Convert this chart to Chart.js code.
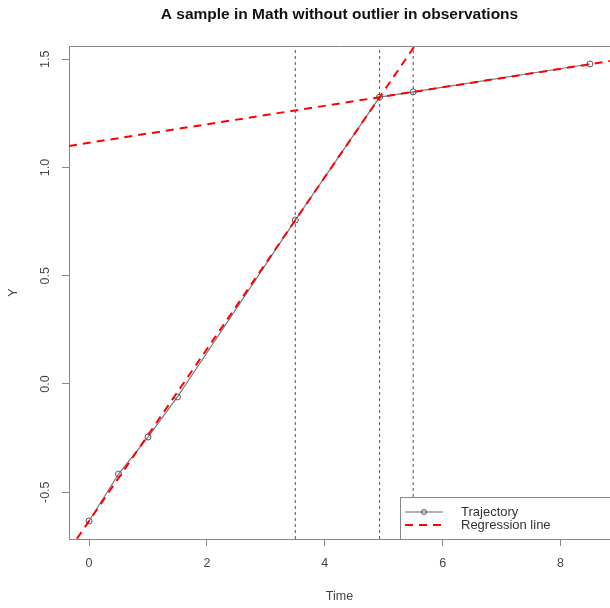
<!DOCTYPE html>
<html>
<head>
<meta charset="utf-8">
<script src="https://cdn.jsdelivr.net/npm/chart.js@4"></script>
<style>
  html, body { margin: 0; padding: 0; background: #fff; }
  canvas { display: block; }
</style>
</head>
<body>
<canvas id="plot" width="610" height="608"></canvas>
<script>
// observed trajectory
const trajTime = [0, 0.5, 1, 1.5, 3.5, 4.93, 5.5, 8.5];
const trajValue = [-0.633, -0.416, -0.245, -0.06, 0.757, 1.325, 1.349, 1.478];

// the two fitted segments, given as end points (clipped to the plot box)
const regEarlyX = [-0.34, 6.0];
const regEarlyY = [-0.768, 1.749];
const regLateX = [-0.34, 8.84];
const regLateY = [1.0995, 1.4915];

// change points marked with dotted verticals
const cutTimes = [3.5, 4.93, 5.5];

const xTicks = [0, 2, 4, 6, 8];
const yTicks = [-0.5, 0, 0.5, 1, 1.5];
const xRange = [-0.34, 8.84];
const yRange = [-0.716, 1.561];

Chart.defaults.font.family = "'Liberation Sans', Arial, sans-serif";
Chart.defaults.color = '#444';

const axisFont = { size: 12.5 };
const pairs = (xs, ys) => xs.map((x, i) => ({ x, y: ys[i] }));

const datasets = [
  {
    label: 'Regression line',
    data: pairs(regEarlyX, regEarlyY),
    borderColor: '#ff0000', borderWidth: 2, borderDash: [8, 6],
    pointRadius: 0, showLine: true, order: 0
  },
  {
    label: 'Regression line',
    data: pairs(regLateX, regLateY),
    borderColor: '#ff0000', borderWidth: 2, borderDash: [8, 6],
    pointRadius: 0, showLine: true, order: 0
  },
  {
    label: 'Trajectory',
    data: pairs(trajTime, trajValue),
    borderColor: '#777', borderWidth: 1.2,
    pointRadius: 3, pointBorderColor: '#555', pointBorderWidth: 1,
    pointBackgroundColor: 'rgba(0,0,0,0)',
    showLine: true, order: 2
  }
];
cutTimes.forEach(t => {
  datasets.push({
    label: 'cut',
    data: [{ x: t, y: yRange[0] }, { x: t, y: yRange[1] }],
    borderColor: '#555', borderWidth: 1, borderDash: [3, 3],
    pointRadius: 0, showLine: true, order: 1
  });
});

// top edge of the box (the axes draw left and bottom)
const boxTop = {
  id: 'boxTop',
  afterDraw(chart) {
    const { ctx, chartArea: a } = chart;
    ctx.save();
    ctx.strokeStyle = '#888';
    ctx.lineWidth = 1;
    ctx.beginPath();
    ctx.moveTo(a.left, a.top + 0.5);
    ctx.lineTo(a.right, a.top + 0.5);
    ctx.stroke();
    ctx.restore();
  }
};

// boxed legend in the bottom-right corner
const boxLegend = {
  id: 'boxLegend',
  afterDraw(chart) {
    const { ctx, chartArea: a } = chart;
    const right = a.right, bottom = a.bottom;
    const left = right - 210, top = bottom - 42;
    ctx.save();
    ctx.fillStyle = '#fff';
    ctx.fillRect(left, top, right - left, bottom - top);
    ctx.strokeStyle = '#888';
    ctx.lineWidth = 1;
    ctx.strokeRect(left + 0.5, top + 0.5, right - left, bottom - top);

    const y1 = top + 15, y2 = top + 28;
    ctx.strokeStyle = '#666';
    ctx.beginPath();
    ctx.moveTo(left + 5, y1);
    ctx.lineTo(left + 43, y1);
    ctx.stroke();
    ctx.strokeStyle = '#555';
    ctx.beginPath();
    ctx.arc(left + 24, y1, 2.5, 0, Math.PI * 2);
    ctx.stroke();

    ctx.strokeStyle = '#ff0000';
    ctx.lineWidth = 2;
    ctx.setLineDash([8, 6]);
    ctx.beginPath();
    ctx.moveTo(left + 5, y2);
    ctx.lineTo(left + 43, y2);
    ctx.stroke();
    ctx.setLineDash([]);

    ctx.fillStyle = '#333';
    ctx.font = "13px 'Liberation Sans', Arial, sans-serif";
    ctx.textAlign = 'left';
    ctx.textBaseline = 'middle';
    ctx.fillText('Trajectory', left + 61, y1);
    ctx.fillText('Regression line', left + 61, y2);
    ctx.restore();
  }
};

new Chart(document.getElementById('plot'), {
  type: 'scatter',
  data: { datasets },
  plugins: [boxTop, boxLegend],
  options: {
    responsive: false,
    animation: false,
    layout: { padding: 0, autoPadding: false },
    plugins: {
      legend: { display: false },
      tooltip: { enabled: false },
      title: {
        display: true,
        fullSize: false,
        text: 'A sample in Math without outlier in observations',
        color: '#111',
        font: { size: 15.5, weight: 'bold' },
        padding: { top: 5.5, bottom: 21.9 }
      }
    },
    scales: {
      x: {
        type: 'linear',
        min: xRange[0],
        max: xRange[1],
        afterBuildTicks: s => { s.ticks = xTicks.map(v => ({ value: v })); },
        afterFit: s => { s.height = 69; },
        grid: { drawOnChartArea: false, drawTicks: true, tickLength: 7, color: '#888' },
        border: { display: true, color: '#888' },
        ticks: { padding: 10.5, font: axisFont, maxRotation: 0, autoSkip: false },
        title: { display: true, text: 'Time', font: axisFont, padding: { top: 0, bottom: 3.5 } }
      },
      y: {
        type: 'linear',
        min: yRange[0],
        max: yRange[1],
        afterBuildTicks: s => { s.ticks = yTicks.map(v => ({ value: v })); },
        afterFit: s => { s.width = 69; },
        grid: { drawOnChartArea: false, drawTicks: true, tickLength: 7, color: '#888' },
        border: { display: true, color: '#888' },
        ticks: {
          minRotation: 90, maxRotation: 90, crossAlign: 'center',
          padding: 6, font: axisFont, autoSkip: false,
          callback: v => v.toFixed(1)
        },
        title: { display: true, text: 'Y', font: axisFont, padding: { top: 6.5, bottom: 0 } }
      }
    }
  }
});
</script>
</body>
</html>
